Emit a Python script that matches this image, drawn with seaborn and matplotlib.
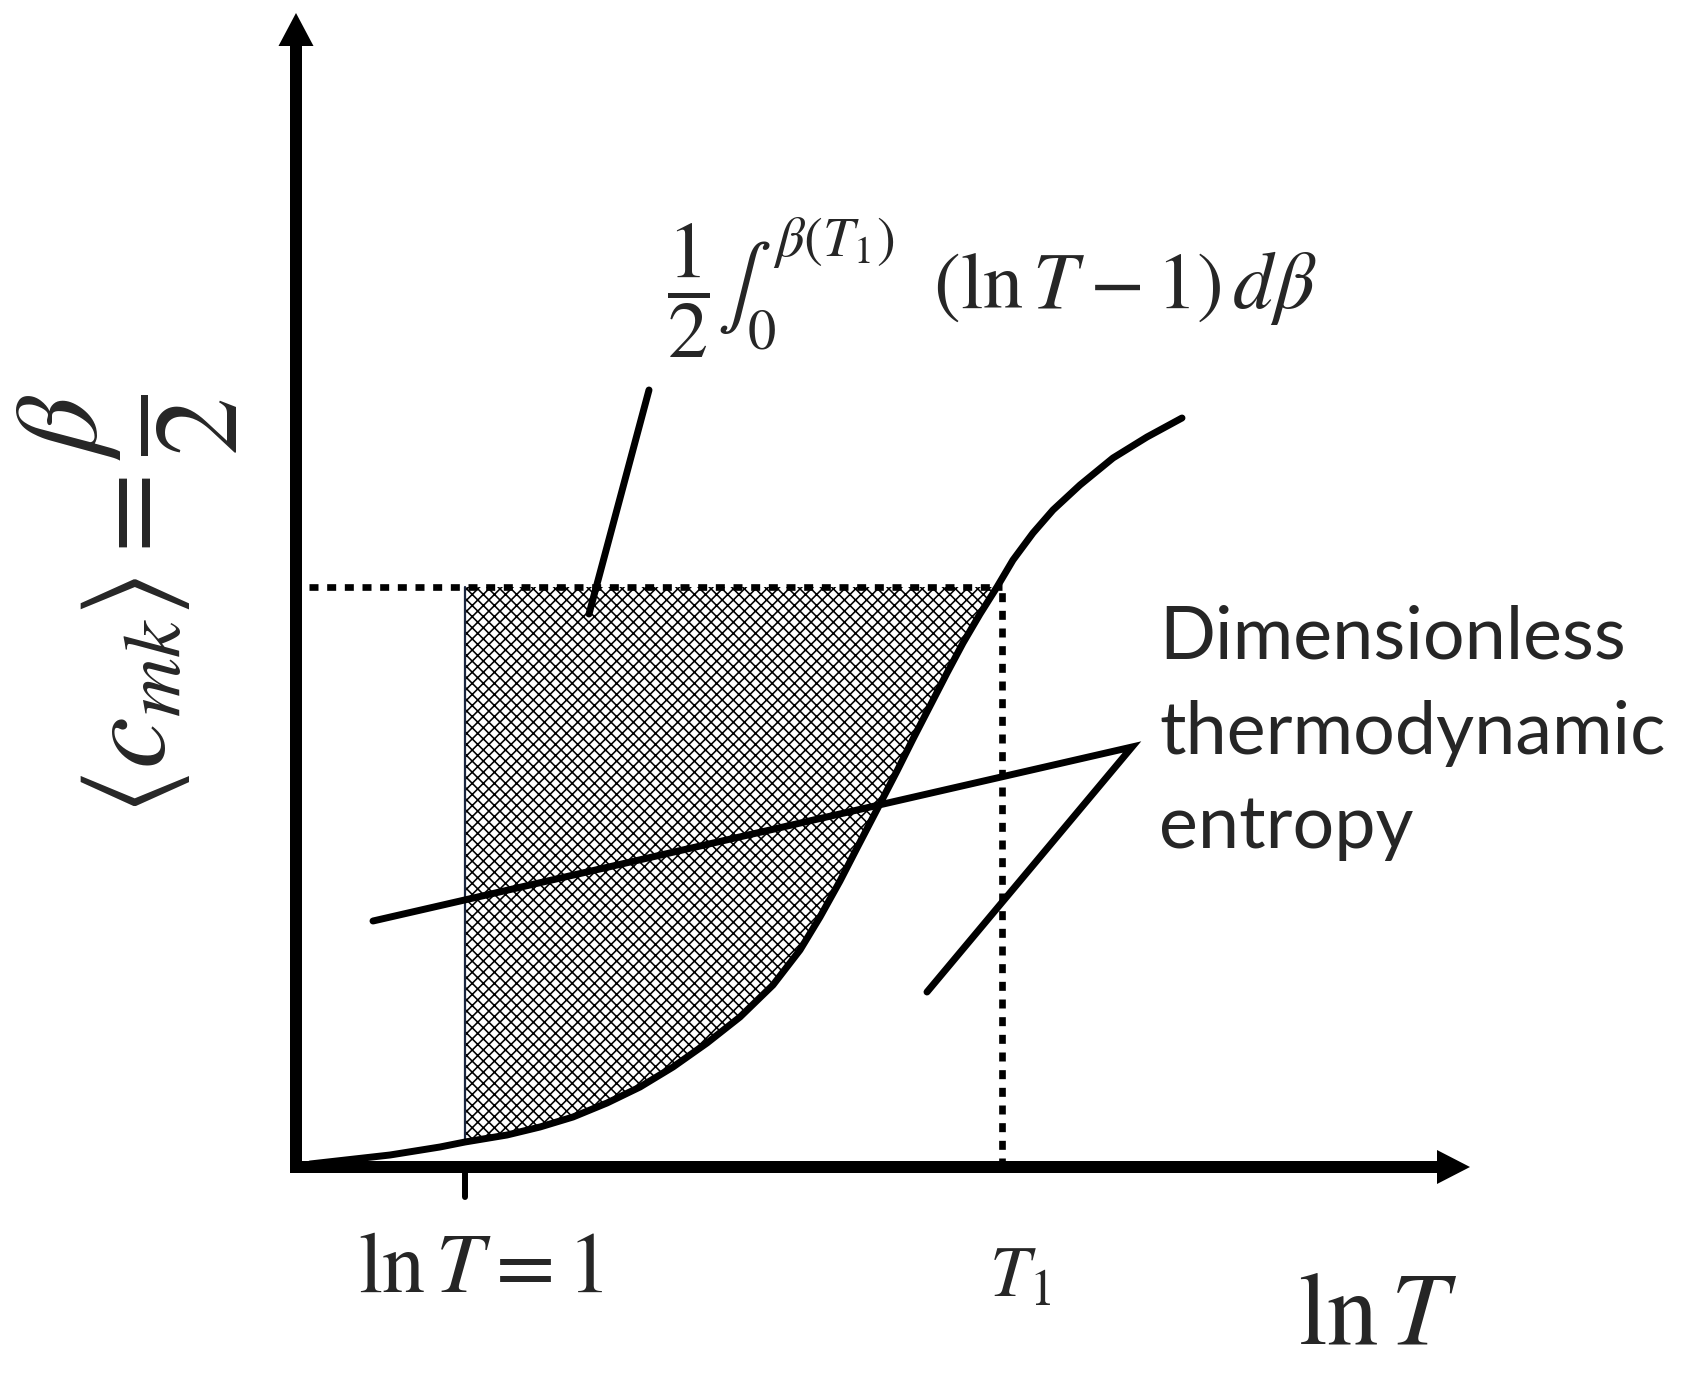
import numpy as np
import pandas as pd
import matplotlib
matplotlib.use("Agg")
import matplotlib.pyplot as plt
import seaborn as sns

sns.set_theme(style="white")
plt.rcParams['font.family'] = ['Lato', 'DejaVu Sans']
plt.rcParams['mathtext.fontset'] = 'stix'
plt.rcParams['hatch.linewidth'] = 1.15

# ---- data (schematic units: 1 unit = 100 px) ----
curve_lnT = [0.14, 0.94, 1.44, 1.69, 2.11, 2.44, 2.77, 3.11, 3.44, 3.77, 4.11,
             4.44, 4.77, 5.04, 5.24, 5.44, 5.61, 5.87, 6.01, 6.17, 6.34, 6.51,
             6.67, 6.84, 7.01, 7.17, 7.37, 7.57, 7.84, 8.17, 8.51, 8.86]
curve_beta = [0.03, 0.12, 0.20, 0.25, 0.32, 0.40, 0.50, 0.64, 0.80, 1.00, 1.24,
              1.50, 1.82, 2.17, 2.50, 2.86, 3.19, 3.69, 3.96, 4.28, 4.61, 4.94,
              5.24, 5.53, 5.80, 6.07, 6.34, 6.57, 6.82, 7.09, 7.30, 7.49]
lnT_one = 1.69          # position of ln T = 1
lnT_T1 = 7.01           # position of T1 on the curve
T1_guide = 7.06         # vertical dotted guide
beta_T1 = 5.80          # beta(T1)/2 level
dotted_start = 0.13
entropy_x = [0.77, 8.36, 6.31]
entropy_y = [2.46, 4.20, 1.75]
leader_x = [3.53, 2.93]
leader_y = [7.77, 5.53]
x_axis_end = 11.74
y_axis_end = 11.54

df = pd.DataFrame({"lnT": curve_lnT, "beta": curve_beta})

fig = plt.figure(figsize=(16.88, 13.79), dpi=100)
ax = fig.add_axes([0, 0, 1, 1])
ax.set_xlim(-2.96, 13.92)
ax.set_ylim(-2.12, 11.67)
ax.axis("off")

# shaded region between ln T = 1, the curve and beta(T1)
i0 = curve_lnT.index(lnT_one)
i1 = curve_lnT.index(lnT_T1)
px = list(curve_lnT[i0:i1 + 1]) + [lnT_one]
py = list(curve_beta[i0:i1 + 1]) + [beta_T1]
ax.fill(px, py, facecolor="white", edgecolor="black", hatch="xxx", lw=0, zorder=1)
ax.plot([lnT_one, lnT_one], [curve_beta[i0], beta_T1], color="#1c2740", lw=1.6, zorder=2)

# dotted guides
dot = dict(color="black", lw=4.8, linestyle=(0, (1.35, 1.3)), dash_capstyle="butt", zorder=3)
ax.plot([dotted_start, T1_guide], [beta_T1, beta_T1], **dot)
ax.plot([T1_guide, T1_guide], [0, beta_T1], **dot)

# main curve
sns.lineplot(data=df, x="lnT", y="beta", sort=False, estimator=None, ax=ax,
             color="black", lw=5.0, zorder=4)

# entropy leader lines and integral leader
ax.plot(entropy_x, entropy_y, color="black", lw=5.0, solid_joinstyle="miter", zorder=4)
ax.plot(leader_x, leader_y, color="black", lw=5.0, zorder=4)

# axes with arrows
ax.arrow(-0.06, 0, x_axis_end + 0.06, 0, width=0.12, head_width=0.34, head_length=0.33,
         length_includes_head=True, color="black", lw=0, zorder=5)
ax.arrow(0, -0.06, 0, y_axis_end + 0.06, width=0.12, head_width=0.35, head_length=0.33,
         length_includes_head=True, color="black", lw=0, zorder=5)
ax.plot([lnT_one, lnT_one], [0, -0.30], color="black", lw=4.3, zorder=5)

# texts
ax.text(3.71, 8.79, r"$\dfrac{1}{2}\int_0^{\beta(T_1)}\ \ (\ln T-1)\,d\beta$",
        fontsize=58, ha="left", va="center")
ax.text(-1.68, 5.62, r"$\langle c_{mk}\rangle = \dfrac{\beta}{2}$", rotation=90,
        fontsize=84, ha="center", va="center")
ax.text(1.84, -1.01, r"$\ln T = 1$", fontsize=62, ha="center", va="center")
ax.text(7.24, -1.09, r"$\mathit{T_1}$", fontsize=52, ha="center", va="center")
ax.text(10.82, -1.48, r"$\ln T$", fontsize=74, ha="center", va="center")

entropy_lines = ["Dimensionless", "thermodynamic", "entropy"]
entropy_baselines = [5.08, 4.13, 3.19]
for s, yb in zip(entropy_lines, entropy_baselines):
    ax.text(8.63, yb, s, fontsize=53, ha="left", va="baseline")

fig.savefig("out.png", dpi=100)
